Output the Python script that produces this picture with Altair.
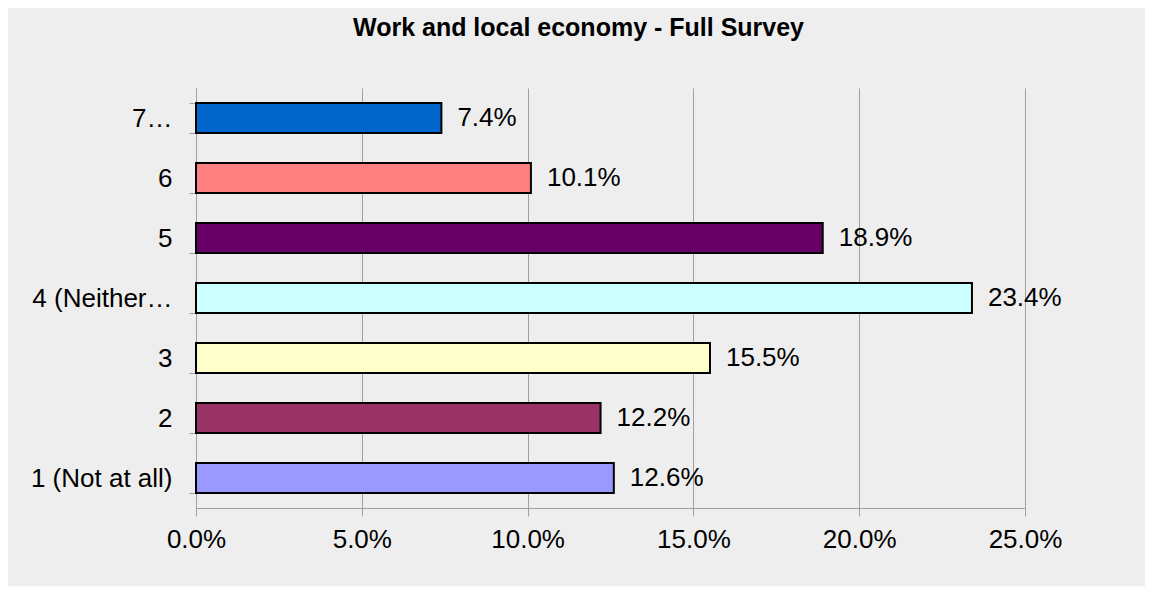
import altair as alt
import pandas as pd

categories = ["7…", "6", "5", "4 (Neither…", "3", "2", "1 (Not at all)"]
shares = [0.074, 0.101, 0.189, 0.234, 0.155, 0.122, 0.126]
colors = ["#0066cc", "#ff8080", "#660066", "#ccffff", "#ffffcc", "#993366", "#9999ff"]
x_ticks = [0.0, 0.05, 0.10, 0.15, 0.20, 0.25]

df = pd.DataFrame({"cat": categories, "share": shares})

FONT = "Liberation Sans"
GRAY = "#a0a0a0"

y_enc = alt.Y(
    "cat:N",
    sort=categories,
    title=None,
    scale=alt.Scale(paddingInner=0.5, paddingOuter=0.25),
    axis=alt.Axis(
        tickBand="extent",
        tickSize=7,
        tickColor=GRAY,
        domainColor=GRAY,
        labelPadding=17,
        labelFontSize=26,
        labelFont=FONT,
        labelColor="#000000",
        grid=False,
        labelLimit=400,
    ),
)

x_enc = alt.X(
    "share:Q",
    title=None,
    scale=alt.Scale(domain=[0, 0.25], nice=False),
    axis=alt.Axis(
        values=x_ticks,
        format=".1%",
        grid=True,
        gridColor=GRAY,
        domainColor=GRAY,
        tickColor=GRAY,
        tickSize=8,
        labelPadding=10,
        labelFlush=False,
        labelFontSize=26,
        labelFont=FONT,
        labelColor="#000000",
    ),
)

bars = alt.Chart(df).mark_bar(stroke="#000000", strokeWidth=2).encode(
    y=y_enc,
    x=x_enc,
    color=alt.Color("cat:N", scale=alt.Scale(domain=categories, range=colors), legend=None),
)

labels = alt.Chart(df).mark_text(
    align="left", baseline="middle", dx=16, fontSize=26, font=FONT, color="#000000"
).encode(
    y=alt.Y("cat:N", sort=categories),
    x=alt.X("share:Q"),
    text=alt.Text("share:Q", format=".1%"),
)

chart = (
    alt.layer(bars, labels)
    .properties(
        width=829,
        height=420,
        background="#eeeeee",
        padding={"left": 188, "top": 80, "right": 120, "bottom": 78},
        autosize=alt.AutoSizeParams(type="none"),
        title=alt.TitleParams(
            "Work and local economy - Full Survey",
            anchor="middle",
            frame="group",
            dx=-32,
            offset=34,
            fontSize=25,
            font=FONT,
            fontWeight="bold",
            color="#000000",
        ),
    )
    .configure_view(stroke=None)
)

chart.save("out.html", embed_options={"renderer": "svg", "actions": False})
